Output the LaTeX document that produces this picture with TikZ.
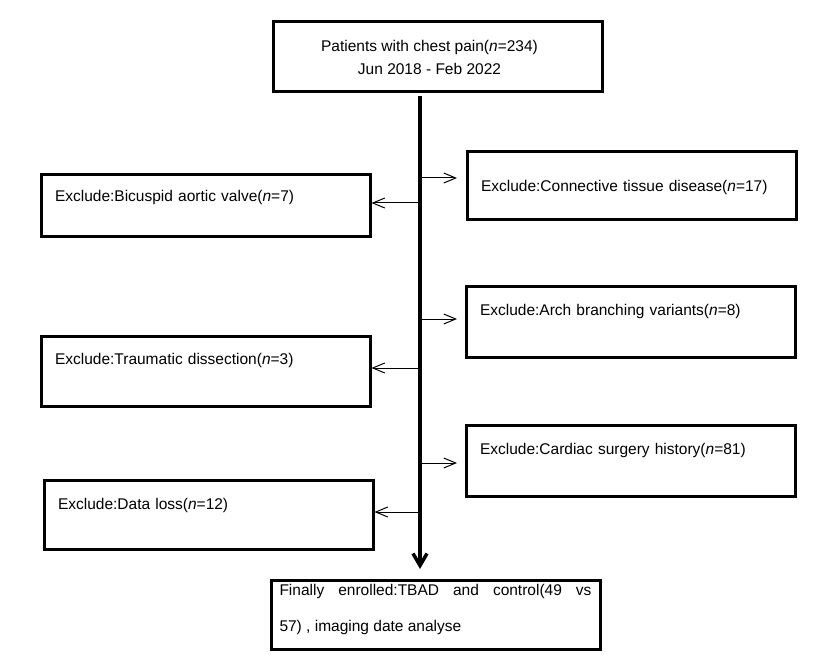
\documentclass[tikz,border=0pt]{standalone}
\usepackage{fontspec}
\setmainfont{Liberation Sans}
\usetikzlibrary{arrows.meta}
\tikzset{
  mybox/.style 2 args={draw,line width=3pt,anchor=north west,minimum width=329pt,text width=301pt,inner xsep=14pt,inner ysep=0pt,align=left,text height=#1,text depth=#2},
  myarrow/.style={line width=1pt,-{Straight Barb[length=12pt,width=10pt]}},
  mainarrow/.style={line width=3.5pt,-{Straight Barb[length=12pt,width=14pt]}}
}

\begin{document}
\begin{tikzpicture}[x=1pt,y=-1pt,font=\fontsize{15.5}{25}\selectfont]
\useasboundingbox (0,0) rectangle (827,660);
% boxes
\node[draw,line width=3pt,anchor=north west,minimum width=329pt,minimum height=70pt,align=center] (pat) at (271.5,20.5) {\hspace*{-16pt}Patients with chest pain(\textit{n}=234)\\[-2pt]\hspace*{-16pt}Jun 2018 - Feb 2022};
\node[mybox={27pt}{35pt}] (bav) at (39.5,173.5) {Exclude:Bicuspid aortic valve(\textit{n}=7)};
\node[mybox={40pt}{28pt}] (ctd) at (465.5,150.5) {Exclude:Connective tissue disease(\textit{n}=17)};
\node[mybox={29pt}{41pt}] (arch) at (464.5,285.5) {Exclude:Arch branching variants(\textit{n}=8)};
\node[mybox={28pt}{42pt}] (trauma) at (39.5,334.5) {Exclude:Traumatic dissection(\textit{n}=3)};
\node[mybox={29pt}{42pt}] (surg) at (464.5,423.5) {Exclude:Cardiac surgery history(\textit{n}=81)};
\node[mybox={29pt}{40pt}] (loss) at (42.5,478.5) {Exclude:Data loss(\textit{n}=12)};
\node[mybox={15pt}{54pt},text width=312pt,inner xsep=8.5pt,align=justify,font=\fontsize{15.5}{36}\selectfont] (fin) at (269.5,578.5) {Finally enrolled:TBAD and control(49 vs\linebreak 57) , imaging date analyse};
% points on the main line
\coordinate (top) at (420,96);
\coordinate (bot) at (420,569);
\coordinate (r1) at (420,178);
\coordinate (l1) at (420,203);
\coordinate (r2) at (420,319);
\coordinate (l2) at (420,368);
\coordinate (r3) at (420,463);
\coordinate (l3) at (420,512);
% side arrows
\draw[myarrow,shorten >=8.5pt] (r1) -- (r1 -| ctd.west);
\draw[myarrow,shorten >=7.5pt] (r2) -- (r2 -| arch.west);
\draw[myarrow,shorten >=7.5pt] (r3) -- (r3 -| surg.west);
\draw[myarrow] (l1) -- (l1 -| bav.east);
\draw[myarrow] (l2) -- (l2 -| trauma.east);
\draw[myarrow] (l3) -- (l3 -| loss.east);
\draw[mainarrow] (top) -- (bot);
\end{tikzpicture}
\end{document}
